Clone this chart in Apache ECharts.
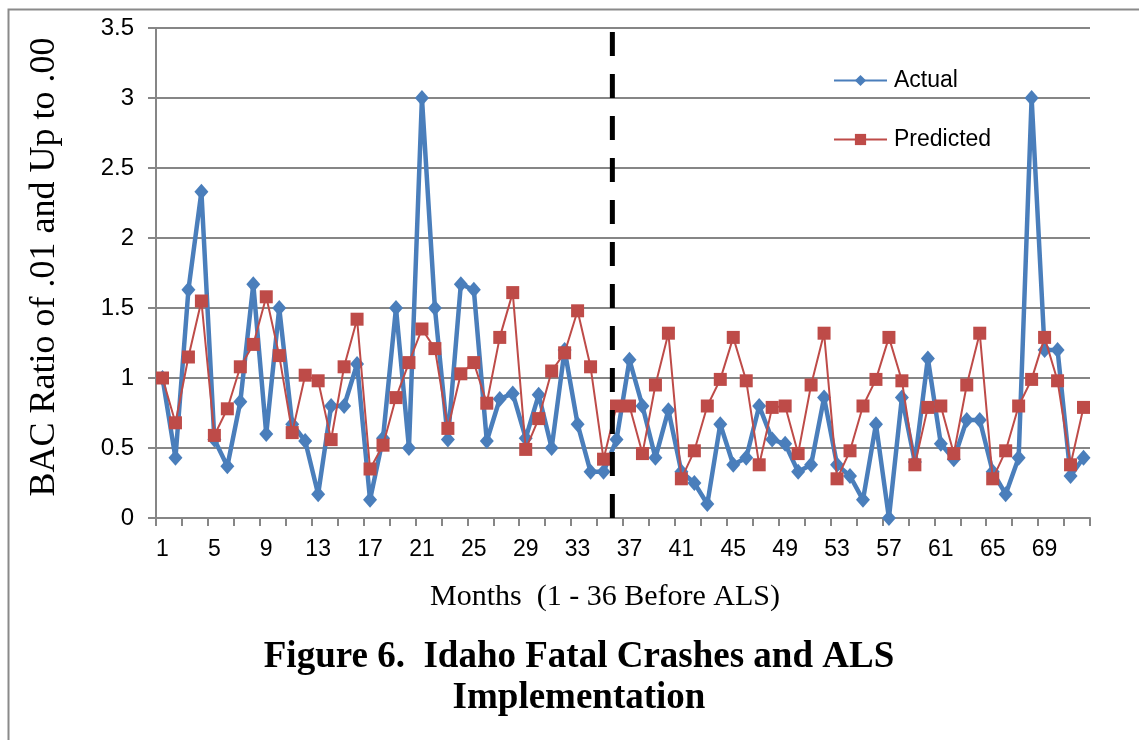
<!DOCTYPE html>
<html>
<head>
<meta charset="utf-8">
<script src="https://cdn.jsdelivr.net/npm/echarts@6/dist/echarts.min.js"></script>
<style>
html,body{margin:0;padding:0;background:#fff;}
#chart{width:1139px;height:740px;}
</style>
</head>
<body>
<div id="chart"></div>
<script>
// ---- data ----
var monthLabels = ['1','2','3','4','5','6','7','8','9','10','11','12','13','14','15','16','17','18','19','20','21','22','23','24','25','26','27','28','29','30','31','32','33','34','35','36','37','38','39','40','41','42','43','44','45','46','47','48','49','50','51','52','53','54','55','56','57','58','59','60','61','62','63','64','65','66','67','68','69','70','71','72'];
var actual = [1.00, 0.43, 1.63, 2.33, 0.56, 0.37, 0.83, 1.67, 0.60, 1.50,
              0.67, 0.55, 0.17, 0.80, 0.80, 1.10, 0.13, 0.57, 1.50, 0.50,
              3.00, 1.50, 0.56, 1.67, 1.63, 0.55, 0.85, 0.89, 0.57, 0.88,
              0.50, 1.20, 0.67, 0.33, 0.33, 0.56, 1.13, 0.80, 0.43, 0.77,
              0.33, 0.25, 0.10, 0.67, 0.38, 0.43, 0.80, 0.56, 0.53, 0.33,
              0.38, 0.86, 0.38, 0.30, 0.13, 0.67, 0.00, 0.86, 0.40, 1.14,
              0.53, 0.42, 0.70, 0.70, 0.33, 0.17, 0.43, 3.00, 1.20, 1.20,
              0.30, 0.43];
var predicted = [1.00, 0.68, 1.15, 1.55, 0.59, 0.78, 1.08, 1.24, 1.58, 1.16,
                 0.61, 1.02, 0.98, 0.56, 1.08, 1.42, 0.35, 0.52, 0.86, 1.11,
                 1.35, 1.21, 0.64, 1.03, 1.11, 0.82, 1.29, 1.61, 0.49, 0.71,
                 1.05, 1.18, 1.48, 1.08, 0.42, 0.80, 0.80, 0.46, 0.95, 1.32,
                 0.28, 0.48, 0.80, 0.99, 1.29, 0.98, 0.38, 0.79, 0.80, 0.46,
                 0.95, 1.32, 0.28, 0.48, 0.80, 0.99, 1.29, 0.98, 0.38, 0.79,
                 0.80, 0.46, 0.95, 1.32, 0.28, 0.48, 0.80, 0.99, 1.29, 0.98,
                 0.38, 0.79];
var yTicks = {min: 0, max: 3.5, interval: 0.5};
var alsLinePosition = 35.68;   // position of the ALS implementation divider, in month units
var seriesNames = ['Actual', 'Predicted'];
var yAxisTitle = 'BAC Ratio of .01 and Up to .00';
var xAxisTitle = 'Months  (1 - 36 Before ALS)';
var figureTitle = 'Figure 6.  Idaho Fatal Crashes and ALS\nImplementation';

var chart = echarts.init(document.getElementById('chart'), null, {renderer: 'canvas'});
var gray = '#868686';
var sans = "'Liberation Sans', Arial, sans-serif";
var serif = "'Liberation Serif', 'Times New Roman', serif";

var option = {
  animation: false,
  backgroundColor: '#fff',
  title: {
    text: figureTitle,
    left: 574,
    top: 632,
    textAlign: 'center',
    textStyle: {fontFamily: serif, fontWeight: 'bold', fontSize: 37, lineHeight: 41, color: '#000'}
  },
  graphic: [{
    type: 'rect', silent: true,
    shape: {x: 8.5, y: 9.5, width: 1300, height: 900},
    style: {fill: 'none', stroke: '#8a8a8a', lineWidth: 2}
  }],
  legend: {
    orient: 'vertical',
    left: 833, top: 69,
    padding: 0,
    itemWidth: 53, itemHeight: 14, itemGap: 36,
    data: seriesNames,
    textStyle: {fontFamily: sans, fontSize: 23, color: '#000', padding: [0, 0, 0, 2]}
  },
  grid: {left: 156, right: 49, top: 28, bottom: 222, containLabel: false},
  xAxis: [{
    type: 'category',
    data: monthLabels,
    boundaryGap: true,
    axisLine: {lineStyle: {color: gray, width: 2}},
    axisTick: {show: true, interval: 1, length: 8, lineStyle: {color: gray, width: 2}},
    axisLabel: {interval: 3, margin: 20, fontFamily: sans, fontSize: 23, color: '#000'},
    splitLine: {show: false},
    name: xAxisTitle,
    nameLocation: 'middle',
    nameGap: 64,
    nameTextStyle: {fontFamily: serif, fontSize: 30, color: '#000', padding: [0, 36, 0, 0]}
  }, {
    type: 'value',
    min: 0.5, max: 72.5,
    show: false
  }],
  yAxis: {
    type: 'value',
    min: yTicks.min, max: yTicks.max, interval: yTicks.interval,
    axisLine: {show: true, lineStyle: {color: gray, width: 2}},
    axisTick: {show: true, length: 8, lineStyle: {color: gray, width: 2}},
    axisLabel: {margin: 22, fontFamily: sans, fontSize: 24, color: '#000'},
    splitLine: {show: true, lineStyle: {color: gray, width: 2}},
    name: yAxisTitle,
    nameLocation: 'middle',
    nameGap: 93,
    nameTextStyle: {fontFamily: serif, fontSize: 36, color: '#000', padding: [0, 0, 0, 12]}
  },
  series: [{
    name: seriesNames[0],
    type: 'line',
    data: actual,
    symbol: 'diamond',
    symbolSize: [14, 16],
    showAllSymbol: true,
    lineStyle: {color: '#4A7EBB', width: 4.5},
    itemStyle: {color: '#4A7EBB'},
    z: 3
  }, {
    name: seriesNames[1],
    type: 'line',
    data: predicted,
    symbol: 'rect',
    symbolSize: 13,
    showAllSymbol: true,
    lineStyle: {color: '#BE4B48', width: 2},
    itemStyle: {color: '#BE4B48'},
    z: 4
  }, {
    name: 'ALS',
    type: 'line',
    xAxisIndex: 1,
    data: [[alsLinePosition, yTicks.min], [alsLinePosition, yTicks.max]],
    symbol: 'none',
    silent: true,
    lineStyle: {color: '#000', width: 5, type: [24, 18]},
    z: 5
  }]
};
chart.setOption(option);
</script>
</body>
</html>
